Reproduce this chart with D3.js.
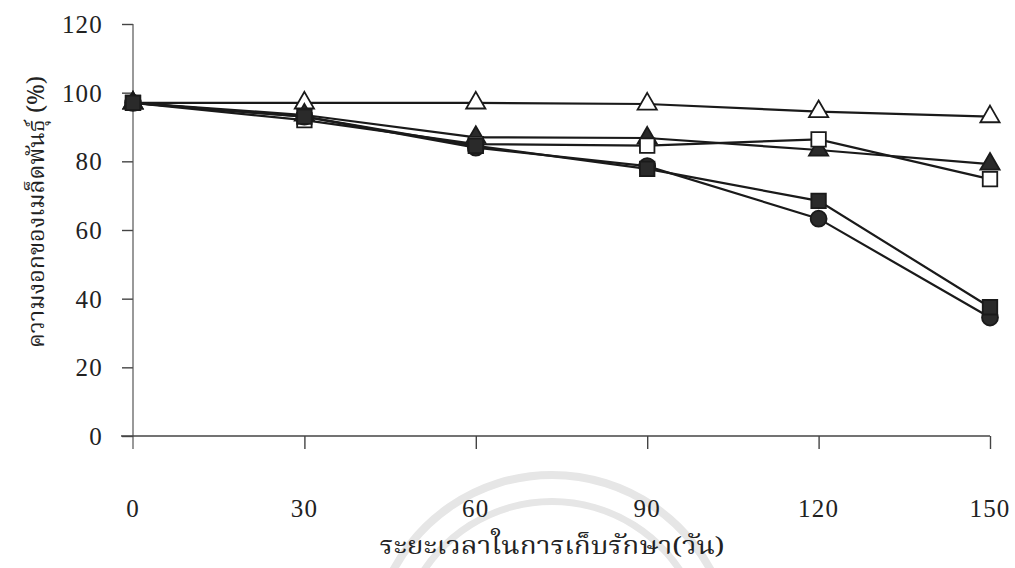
<!DOCTYPE html>
<html><head><meta charset="utf-8">
<script src="https://cdn.jsdelivr.net/npm/d3@7"></script>
<style>body{margin:0;background:#fff}svg{display:block}</style>
</head><body>
<svg id="c" width="1015" height="568"></svg>
<script>
const days = [0, 30, 60, 90, 120, 150];
const yTicks = [0, 20, 40, 60, 80, 100, 120];
const openTriangle = [97, 97, 97, 96.7, 94.5, 93];
const filledTriangle = [97, 93.5, 87, 86.8, 83.3, 79.2];
const openSquare = [97, 92, 85, 84.6, 86.4, 74.8];
const filledCircle = [97, 93, 84, 78.6, 63.3, 34.5];
const filledSquare = [97, 93, 84.5, 77.8, 68.5, 37.5];
const xTitle = "ระยะเวลาในการเก็บรักษา(วัน)";
const yTitle = "ความงอกของเมล็ดพันธุ์ (%)";

// draw order: last one on top
const series = [
  {v: openTriangle, shape: "triangle", fill: false},
  {v: filledTriangle, shape: "triangle", fill: true},
  {v: openSquare, shape: "square", fill: false},
  {v: filledCircle, shape: "circle", fill: true},
  {v: filledSquare, shape: "square", fill: true}
];

const svg = d3.select("#c");
const x = d3.scaleLinear().domain([0, 150]).range([133, 990]);
const y = d3.scaleLinear().domain([0, 120]).range([436, 24]);
const serif = "'Liberation Serif','Times New Roman',serif";
const thai = "'Noto Serif Thai','Noto Sans Thai','Loma','Garuda','DejaVu Sans',sans-serif";

// faint watermark arcs (decorative, from the scanned page)
const wm = svg.append("g").attr("fill","none").attr("stroke","#e2e2e2");
wm.append("path").attr("d", d3.arc()({innerRadius:176, outerRadius:184, startAngle:-Math.PI/2.6, endAngle:Math.PI/2.6}))
  .attr("transform","translate(552,655)").attr("fill","#e6e6e6").attr("stroke","none");
wm.append("path").attr("d", d3.arc()({innerRadius:150, outerRadius:157, startAngle:-Math.PI/2.8, endAngle:Math.PI/2.8}))
  .attr("transform","translate(552,655)").attr("fill","#e6e6e6").attr("stroke","none");

// y axis
const ya = svg.append("g").attr("transform", `translate(${x(0)},0)`)
  .call(d3.axisLeft(y).tickValues(yTicks).tickSize(11).tickPadding(19).tickSizeOuter(0));
ya.select(".domain").remove();
ya.append("line").attr("x1",0).attr("x2",0).attr("y1",y(120)).attr("y2",y(0)+13).attr("stroke","#555").attr("stroke-width",1.2);
ya.selectAll(".tick line").attr("stroke","#444").attr("stroke-width",1.4);
ya.selectAll(".tick text").attr("font-family",serif).attr("font-size",25).attr("letter-spacing",1.2)
  .attr("fill","#222").attr("dy","0.34em");

// x axis
const xa = svg.append("g").attr("transform", `translate(0,${y(0)})`)
  .call(d3.axisBottom(x).tickValues(days.slice(1)).tickSize(13).tickFormat(""));
xa.select(".domain").remove();
xa.append("line").attr("x1",x(0)-12).attr("x2",x(150)).attr("y1",0).attr("y2",0).attr("stroke","#444").attr("stroke-width",1.6);
xa.selectAll(".tick line").attr("stroke","#444").attr("stroke-width",1.4);

// x tick labels placed lower (as in reference)
svg.append("g").selectAll("text").data(days).join("text")
  .attr("x", d => x(d)).attr("y", 517).attr("text-anchor","middle")
  .attr("font-family", serif).attr("font-size", 25).attr("letter-spacing",1.2)
  .attr("fill","#222").text(d => d);

// titles
svg.append("text").attr("x", 552).attr("y", 554).attr("text-anchor","middle")
  .attr("font-family", thai).attr("font-size", 24).attr("textLength", 345).attr("lengthAdjust","spacingAndGlyphs")
  .attr("fill","#222").text(xTitle);
svg.append("text").attr("transform","translate(44,212) rotate(-90)").attr("text-anchor","middle")
  .attr("font-family", thai).attr("font-size", 23).attr("textLength", 272).attr("lengthAdjust","spacingAndGlyphs")
  .attr("fill","#222").text(yTitle);

// lines
const line = d3.line().x((d,i) => x(days[i])).y(d => y(d));
series.forEach(s => {
  svg.append("path").datum(s.v).attr("d", line).attr("fill","none")
    .attr("stroke","#1a1a1a").attr("stroke-width",2.2);
});

// markers
const sym = {circle: d3.symbolCircle, square: d3.symbolSquare, triangle: d3.symbolTriangle};
const size = {circle: 200, square: 210, triangle: 160};
series.forEach(s => {
  svg.append("g").selectAll("path").data(s.v).join("path")
    .attr("transform", (d,i) => `translate(${x(days[i])},${y(d)})`)
    .attr("d", d3.symbol().type(sym[s.shape]).size(size[s.shape]))
    .attr("fill", s.fill ? "#2a2a2a" : "#fff")
    .attr("stroke", "#1a1a1a").attr("stroke-width", 1.8);
});
</script>
</body></html>
